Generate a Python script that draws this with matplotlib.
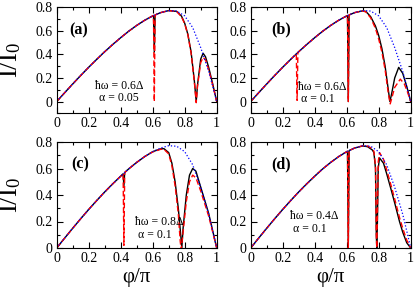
import numpy as np
import matplotlib
matplotlib.use('Agg')
from matplotlib import pyplot as plt
from matplotlib.ticker import MultipleLocator

plt.rcParams['font.family'] = ['Liberation Serif', 'DejaVu Serif']
plt.rcParams['mathtext.fontset'] = 'custom'
plt.rcParams['mathtext.rm'] = 'Liberation Serif'
plt.rcParams['mathtext.it'] = 'Liberation Serif:italic'

# values (phi/pi, I/I0)
phi_blue = [0, .05, .1, .15, .2, .25, .3, .35, .4, .45, .5, .55, .6, .65, .7, .75, .8, .85, .9, .95, .975, 1]
I_blue = [0, .075, .149, .221, .291, .358, .423, .484, .542, .597, .646, .690, .727, .755, .772, .768, .727, .628, .458, .255, .13, 0]

# shared rising part up to phi/pi = 0.6
phi_rise = [0, .05, .1, .15, .2, .25, .3, .35, .4, .45, .5, .55, .6]
I_rise = [0, .075, .149, .221, .291, .358, .423, .484, .542, .597, .646, .690, .727]

# panel (a): hw=0.6, alpha=0.05
phi_a_black = phi_rise + [.605, .61, .615, .65, .7, .75, .78, .8, .82, .84, .86, .872, .88, .9, .915, .93, .95, .975, 1]
I_a_black = I_rise + [.730, .42, .735, .755, .772, .765, .725, .665, .57, .42, .18, 0, .14, .36, .41, .38, .29, .15, 0]
phi_a_red = phi_rise + [.605, .61, .615, .65, .7, .75, .78, .8, .82, .84, .86, .872, .88, .9, .915, .93, .95, .975, 1]
I_a_red = I_rise + [.730, 0, .735, .755, .772, .765, .72, .66, .565, .41, .17, -.01, .13, .33, .375, .355, .27, .14, 0]

# panel (b): hw=0.6, alpha=0.1
phi_b_black = phi_rise + [.605, .61, .615, .65, .7, .72, .75, .78, .8, .82, .84, .86, .87, .88, .9, .925, .95, .975, 1]
I_b_black = I_rise + [.730, 0, .735, .755, .770, .765, .72, .64, .56, .45, .30, .10, 0, .06, .20, .29, .24, .13, 0]
phi_b_red = [0, .05, .1, .15, .2, .25, .285, .29, .295, .3, .35, .4, .45, .5, .55, .6,
             .605, .61, .615, .65, .7, .72, .75, .78, .8, .82, .84, .86, .872, .88, .9, .935, .96, .98, 1]
I_b_red = [0, .075, .149, .221, .291, .358, .405, .01, .415, .423, .484, .542, .597, .646, .690, .727,
           .730, 0, .735, .755, .770, .760, .71, .62, .53, .42, .27, .07, -.02, .02, .12, .19, .15, .08, 0]

# panel (c): hw=0.8, alpha=0.1
phi_c_black = [0, .05, .1, .15, .2, .25, .3, .35, .4, .415, .42, .425, .45, .5, .55, .6,
               .65, .67, .7, .72, .74, .76, .775, .782, .79, .81, .83, .85, .87, .9, .95, .975, 1]
I_c_black = [0, .075, .149, .221, .291, .358, .423, .484, .542, .560, .47, .570, .597, .646, .690, .727,
             .748, .750, .72, .64, .50, .30, .10, 0, .15, .40, .55, .60, .58, .46, .26, .13, 0]
phi_c_red = [0, .05, .1, .15, .2, .25, .3, .35, .4, .415, .42, .425, .45, .5, .55, .6,
             .65, .67, .7, .72, .74, .76, .772, .778, .79, .81, .83, .85, .87, .9, .95, .975, 1]
I_c_red = [0, .075, .149, .221, .291, .358, .423, .484, .542, .560, .02, .570, .597, .646, .690, .725,
           .745, .745, .71, .62, .47, .26, .05, -.01, .12, .35, .50, .55, .53, .43, .24, .12, 0]

# panel (d): hw=0.4, alpha=0.1
phi_d_black = phi_rise + [.605, .61, .615, .65, .7, .73, .76, .77, .78, .785, .788, .792, .797, .805, .83, .85, .88, .9, .93, .95, .975, 1]
I_d_black = I_rise + [.730, 0, .735, .755, .770, .765, .74, .72, .6, .1, 0, .2, .6, .68, .64, .56, .43, .34, .20, .12, .04, 0]
phi_d_red = phi_rise + [.605, .61, .615, .65, .7, .73, .76, .77, .78, .785, .788, .792, .797, .805, .83, .85, .88, .9, .93, .95, .975, 1]
I_d_red = I_rise + [.730, 0, .735, .755, .772, .770, .75, .73, .62, .1, 0, .25, .65, .72, .67, .59, .46, .37, .23, .15, .06, 0]

panels = [
    ('(a)', phi_a_black, I_a_black, phi_a_red, I_a_red, '0.6', '0.05'),
    ('(b)', phi_b_black, I_b_black, phi_b_red, I_b_red, '0.6', '0.1'),
    ('(c)', phi_c_black, I_c_black, phi_c_red, I_c_red, '0.8', '0.1'),
    ('(d)', phi_d_black, I_d_black, phi_d_red, I_d_red, '0.4', '0.1'),
]

# layout (pixels from top-left)
W, H = 415, 293
boxes = [[56.7, 7.3], [250.7, 7.3], [56.7, 142], [250.7, 142]]
label_pos = [(0.14, 0.78), (0.19, 0.79), (0.146, 0.79), (0.19, 0.79)]
text_pos = [(0.39, 0.26, 0.39, 0.14), (0.445, 0.25, 0.42, 0.135),
            (0.64, 0.245, 0.615, 0.12), (0.40, 0.30, 0.37, 0.18)]

fig = plt.figure(figsize=(W / 100, H / 100), dpi=100)

for k in range(4):
    name, pb, ib, pr, ir, hw, al = panels[k]
    x0, y0 = boxes[k]
    ax = fig.add_axes([x0 / W, 1 - (y0 + 106) / H, 160 / W, 106 / H])
    ax.plot(pb, ib, color='black', lw=1.0, solid_joinstyle='round')
    ax.plot(pr, ir, color='#ff0000', lw=1.0, linestyle=(0, (4, 2)))
    ax.plot(phi_blue, I_blue, color='#0000ff', lw=0.9, linestyle=(0, (1, 1.6)))
    ax.set_xlim(0, 1)
    if k < 2:
        ax.set_ylim(-0.1, 0.8)
    else:
        ax.set_ylim(0, 0.8)
    ax.xaxis.set_minor_locator(MultipleLocator(0.1))
    ax.yaxis.set_minor_locator(MultipleLocator(0.1))
    ax.set_xticks([0, 0.2, 0.4, 0.6, 0.8, 1])
    ax.set_xticklabels(['0', '0.2', '0.4', '0.6', '0.8', '1'])
    ax.set_yticks([0, 0.2, 0.4, 0.6, 0.8])
    ax.set_yticklabels(['0', '0.2', '0.4', '0.6', '0.8'])
    ax.tick_params(which='both', direction='in', top=True, right=True, labelsize=10, pad=3)
    ax.tick_params(which='major', length=4, width=0.8)
    ax.tick_params(which='minor', length=2.2, width=0.8)
    for s in ax.spines.values():
        s.set_linewidth(0.8)
    ax.text(label_pos[k][0], label_pos[k][1], name, transform=ax.transAxes,
            fontsize=11.5, fontweight='bold', ha='center', va='center')
    tp = text_pos[k]
    ax.text(tp[0], tp[1], 'ħω = ' + hw + 'Δ', transform=ax.transAxes,
            fontsize=8.5, ha='center', va='center')
    ax.text(tp[2], tp[3], 'α = ' + al, transform=ax.transAxes,
            fontsize=8.5, ha='center', va='center')
    if k >= 2:
        ax.set_xlabel('φ/π', fontsize=15, labelpad=2)

fig.text(11 / W, 1 - 60 / H, r'I/I$_\mathrm{0}$', rotation=90, fontsize=19, ha='center', va='center')
fig.text(11 / W, 1 - 195 / H, r'I/I$_\mathrm{0}$', rotation=90, fontsize=19, ha='center', va='center')

fig.savefig('out.png', dpi=100)
